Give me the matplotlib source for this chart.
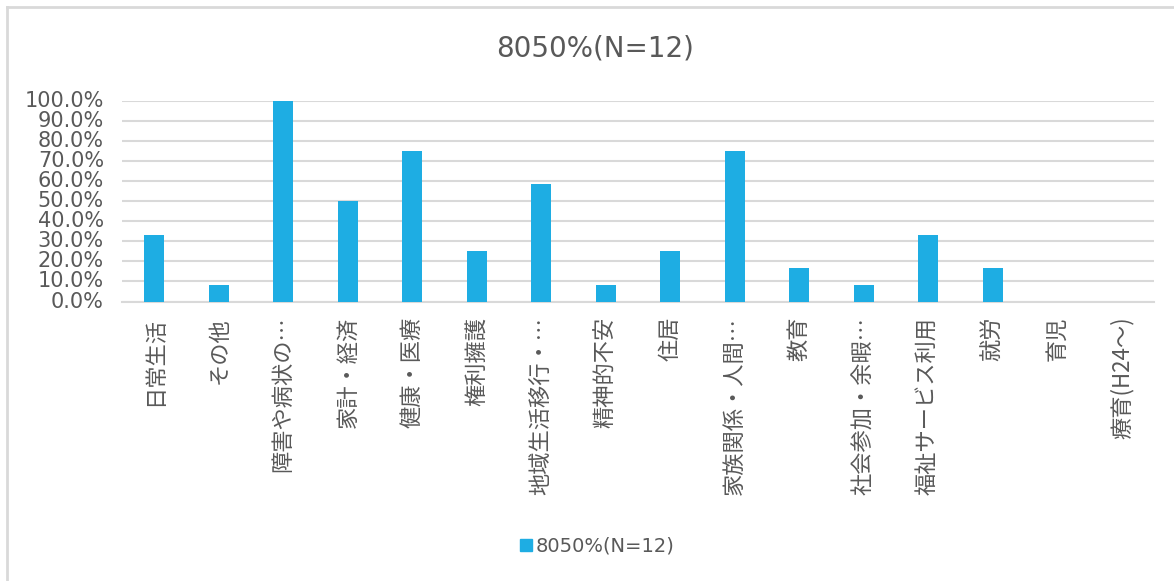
import matplotlib.pyplot as plt
from matplotlib.lines import Line2D
from matplotlib.ticker import PercentFormatter

plt.rcParams['font.family'] = ['DejaVu Sans', 'Noto Sans CJK JP']

series_name = "8050%(N=12)"
categories = [
    "日常生活", "その他", "障害や病状の…", "家計・経済", "健康・医療", "権利擁護",
    "地域生活移行・…", "精神的不安", "住居", "家族関係・人間…", "教育",
    "社会参加・余暇…", "福祉サービス利用", "就労", "育児", "療育(H24～)",
]
# share of cases per consultation topic (N=12)
shares = [
    0.333, 0.083, 1.0, 0.5, 0.75, 0.25,
    0.583, 0.083, 0.25, 0.75, 0.167,
    0.083, 0.333, 0.167, 0.0, 0.0,
]

bar_color = "#1EADE3"
text_color = "#595959"
grid_color = "#D9D9D9"

fig = plt.figure(figsize=(11.74, 5.81), dpi=100)
ax = fig.add_axes([0.1039, 0.481, 0.879, 0.3457])

x = range(len(categories))
ax.bar(x, shares, width=0.31, color=bar_color, zorder=3, label=series_name)

ax.set_xlim(-0.5, len(categories) - 0.5)
ax.set_ylim(0, 1.0)
ax.set_yticks([i / 10 for i in range(11)])
ax.yaxis.set_major_formatter(PercentFormatter(1.0, decimals=1))
ax.grid(axis="y", color=grid_color, linewidth=1.5, zorder=0)
for side in ("top", "right", "left"):
    ax.spines[side].set_visible(False)
ax.spines["bottom"].set_color(grid_color)
ax.spines["bottom"].set_linewidth(1.5)

ax.tick_params(axis="y", length=0, labelsize=15, labelcolor=text_color, pad=13)
ax.tick_params(axis="x", length=0, pad=11)
ax.set_xticks(list(x))
ax.set_xticklabels(categories, rotation=90, ha="center", va="top",
                   fontsize=16, color=text_color,
                   family=["Noto Sans CJK JP", "DejaVu Sans"])
for lbl in ax.get_yticklabels():
    lbl.set_verticalalignment("center")

fig.text(0.507, 0.917, series_name, ha="center", va="center",
         fontsize=20, color=text_color)

handle = Line2D([], [], marker="s", linestyle="none", markersize=9,
                markerfacecolor=bar_color, markeredgecolor=bar_color)
fig.legend([handle], [series_name], loc="center", bbox_to_anchor=(0.508, 0.06),
           frameon=False, fontsize=14, labelcolor=text_color,
           handletextpad=0.1, handlelength=0.8)

# chart frame (top and left edges)
fig.add_artist(Line2D([6.5 / 1174, 1.0], [1 - 7 / 581] * 2,
                      transform=fig.transFigure, color=grid_color, linewidth=2))
fig.add_artist(Line2D([6.5 / 1174] * 2, [0.0, 1 - 7 / 581],
                      transform=fig.transFigure, color=grid_color, linewidth=2))

fig.savefig("out.png", dpi=100)
